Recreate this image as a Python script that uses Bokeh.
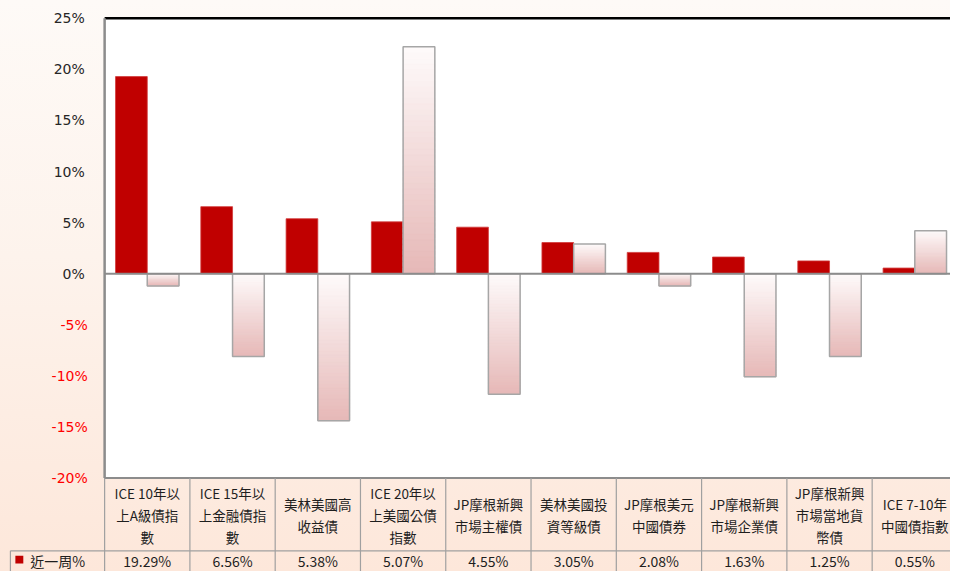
from bokeh.plotting import figure
from bokeh.models import Range1d, ColumnDataSource
from bokeh.core.properties import value
from bokeh.embed import file_html
from bokeh.resources import INLINE

# ---------------- data ----------------
categories = [
    "ICE 10年以\n上A級債指\n數",
    "ICE 15年以\n上金融債指\n數",
    "美林美國高\n收益債",
    "ICE 20年以\n上美國公債\n指數",
    "JP摩根新興\n市場主權債",
    "美林美國投\n資等級債",
    "JP摩根美元\n中國債券",
    "JP摩根新興\n市場企業債",
    "JP摩根新興\n市場當地貨\n幣債",
    "ICE 7-10年\n中國債指數",
]
week_name = "近一周%"
week_pct = [19.29, 6.56, 5.38, 5.07, 4.55, 3.05, 2.08, 1.63, 1.25, 0.55]
other_pct = [-1.2, -8.1, -14.4, 22.2, -11.8, 2.9, -1.2, -10.1, -8.1, 4.2]
y_ticks = [25, 20, 15, 10, 5, 0, -5, -10, -15, -20]
y_tick_labels = ["25%", "20%", "15%", "10%", "5%", "0%", "-5%", "-10%", "-15%", "-20%"]

# ---------------- layout helpers ----------------
X0, PX_CAT = 105.0, 86.0      # plot-area left edge, category width (px)
Y0, PX_PCT = 277.0, 10.36     # zero line, px per percent


def xd(px):
    return (px - X0) / PX_CAT


def yd(py):
    return (Y0 - py) / PX_PCT


n = len(categories)
W, H = 950, 571
FONT = value("Noto Sans CJK TC")

p = figure(width=W, height=H, output_backend="svg", toolbar_location=None,
           x_range=Range1d(xd(0), xd(958)), y_range=Range1d(yd(579), yd(0)),
           x_axis_location=None, y_axis_location=None,
           min_border=0, border_fill_color=None, background_fill_color=None,
           outline_line_color=None)
p.grid.visible = False
p.styles = {"background": "linear-gradient(to bottom, #fefaf7 0%, #fdf3ec 45%, #fde7da 100%)"}

ymin, ymax = y_ticks[-1], y_ticks[0]

# plot area
p.quad(left=[0], right=[n + 1], bottom=[ymin], top=[ymax], fill_color="white", line_color=None)

# red bars (近一周%)
red = ColumnDataSource(dict(
    left=[i + 0.128 for i in range(n)], right=[i + 0.5 for i in range(n)],
    bottom=[0] * n, top=week_pct))
p.quad(left="left", right="right", bottom="bottom", top="top", source=red,
       fill_color="#c00000", line_color="#d23a3a", line_width=0.8)

# gradient bars (second series)
NS = 40
c_top = (254, 251, 251)
c_bot = (230, 184, 183)
gl, gr, gb, gt, gc = [], [], [], [], []
for i, v in enumerate(other_pct):
    top, bot = max(v, 0), min(v, 0)
    h = (top - bot) / NS
    for k in range(NS):
        f = (k + 0.5) / NS
        col = tuple(int(round(c_top[j] + (c_bot[j] - c_top[j]) * f)) for j in range(3))
        gl.append(i + 0.5)
        gr.append(i + 0.872)
        gt.append(top - k * h)
        gb.append(max(bot, top - (k + 1) * h - h * 0.7))
        gc.append("#%02x%02x%02x" % col)
p.quad(left=gl, right=gr, bottom=gb, top=gt, fill_color=gc, line_color=gc, line_width=0.5)
p.quad(left=[i + 0.5 for i in range(n)], right=[i + 0.872 for i in range(n)],
       bottom=[min(v, 0) for v in other_pct], top=[max(v, 0) for v in other_pct],
       fill_color=None, line_color="#a6a6a6", line_width=1.5)

# frame lines
p.segment(x0=[0], x1=[n + 1], y0=[ymax], y1=[ymax], line_color="black", line_width=2.5)
p.segment(x0=[0], x1=[n + 1], y0=[0], y1=[0], line_color="#8c8c8c", line_width=2)
p.segment(x0=[0], x1=[0], y0=[ymin], y1=[ymax], line_color="#8c8c8c", line_width=2.5)
p.segment(x0=[0], x1=[n + 1], y0=[ymin], y1=[ymin], line_color="#8c8c8c", line_width=2)

# data table grid
ybot = yd(600)
p.segment(x0=list(range(n + 1)), x1=list(range(n + 1)), y0=[ymin] * (n + 1), y1=[ybot] * (n + 1),
          line_color="#a0a0a0", line_width=1.2)
row_top = yd(558)
p.segment(x0=[xd(10)], x1=[n + 1], y0=[row_top], y1=[row_top], line_color="#a0a0a0", line_width=1.2)
p.segment(x0=[xd(10)], x1=[xd(10)], y0=[row_top], y1=[ybot], line_color="#a0a0a0", line_width=1.2)

# y tick labels
pos = [(t, l) for t, l in zip(y_ticks, y_tick_labels) if t >= 0]
neg = [(t, l) for t, l in zip(y_ticks, y_tick_labels) if t < 0]
p.text(x=[xd(85)] * len(pos), y=[t for t, _ in pos], text=[l for _, l in pos],
       text_font=value("DejaVu Sans"), text_font_size="14px", text_color="#262626",
       text_align="right", text_baseline="middle")
p.text(x=[xd(88)] * len(neg), y=[t for t, _ in neg], text=[l for _, l in neg],
       text_font=value("DejaVu Sans"), text_font_size="14px", text_color="#ff0000",
       text_align="right", text_baseline="middle")

# category header texts
spacing = 22.5 / PX_PCT
yc = yd(522)
tx, ty, tt = [], [], []
for i, c in enumerate(categories):
    lines = c.split("\n")
    m = len(lines)
    for k, ln in enumerate(lines):
        tx.append(i + 0.5)
        ty.append(yc + ((m - 1) / 2 - k) * spacing)
        tt.append(ln)
p.text(x=tx, y=ty, text=tt, text_font=FONT, text_font_size="13.5px", text_color="#1e1e1e",
       text_align="center", text_baseline="middle")

# value row
yv = yd(578)
p.text(x=[i + 0.5 for i in range(n)], y=[yv] * n, text=["%.2f%%" % v for v in week_pct],
       text_font=FONT, text_font_size="14px", text_color="#1e1e1e",
       text_align="center", text_baseline="bottom")
p.quad(left=[xd(15)], right=[xd(23)], bottom=[yd(571)], top=[yd(563)],
       fill_color="#c00000", line_color=None)
p.text(x=[xd(30)], y=[yv], text=[week_name], text_font=FONT, text_font_size="14px",
       text_color="#1e1e1e", text_align="left", text_baseline="bottom")

open("out.html", "w").write(file_html(p, INLINE))
